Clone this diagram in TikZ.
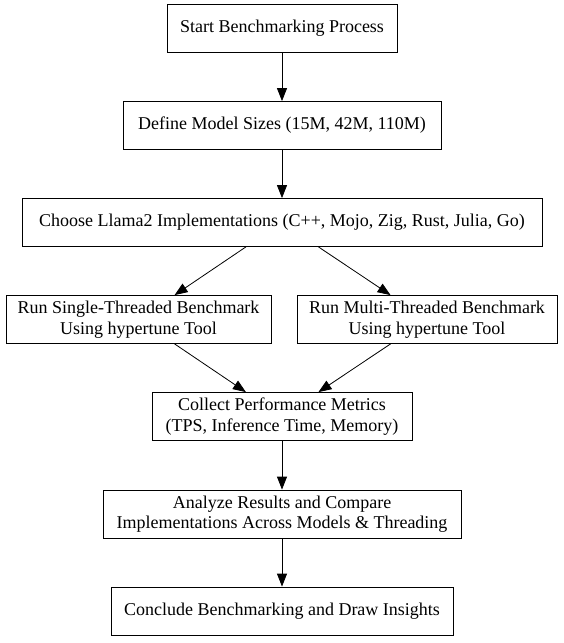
\documentclass[tikz,border=0pt]{standalone}
\usepackage{fontspec}
\setmainfont{Liberation Serif}
\usetikzlibrary{arrows.meta}

\tikzset{
  stepbox/.style={draw, thick, fill=white, align=center, minimum height=48pt,
    inner xsep=6pt, font=\fontsize{18}{20.5}\selectfont},
  flow/.style={thick, -{Triangle[length=13pt,width=10pt]}}
}

\begin{document}
\begin{tikzpicture}[x=1pt,y=1pt]% [ show background grid ]
\useasboundingbox (0,0) rectangle (563,-643);

\node[stepbox,minimum width=230] (start) at (282,-28.5) {Start Benchmarking Process};
\node[stepbox,minimum width=318] (sizes) at (282,-125.5) {Define Model Sizes (15M, 42M, 110M)};
\node[stepbox,minimum width=520] (impls) at (282,-222.5) {Choose Llama2 Implementations (C++, Mojo, Zig, Rust, Julia, Go)};
\node[stepbox,minimum width=265] (single) at (138.5,-319.5) {Run Single-Threaded Benchmark\\Using hypertune Tool};
\node[stepbox,minimum width=260] (multi) at (427,-319.5) {Run Multi-Threaded Benchmark\\Using hypertune Tool};
\node[stepbox,minimum width=260] (metrics) at (282,-416.5) {Collect Performance Metrics\\(TPS, Inference Time, Memory)};
\node[stepbox,minimum width=358] (analyze) at (282,-514) {Analyze Results and Compare\\Implementations Across Models \& Threading};
\node[stepbox,minimum width=342] (conclude) at (282,-611) {Conclude Benchmarking and Draw Insights};

\draw[flow] (start) -- (sizes);
\draw[flow] (sizes) -- (impls);
\draw[flow] (impls) -- (single);
\draw[flow] (impls) -- (multi);
\draw[flow] (single) -- (metrics);
\draw[flow] (multi) -- (metrics);
\draw[flow] (metrics) -- (analyze);
\draw[flow] (analyze) -- (conclude);
\end{tikzpicture}
\end{document}
